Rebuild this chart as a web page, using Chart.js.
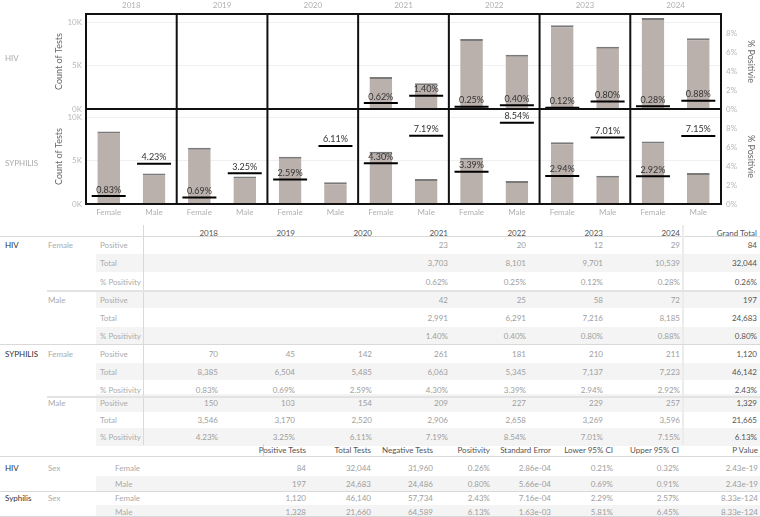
<!DOCTYPE html>
<html>
<head>
<meta charset="utf-8">
<script src="https://cdn.jsdelivr.net/npm/chart.js@4.4.1/dist/chart.umd.min.js"></script>
<style>
    body { margin: 0; background: #fff; font-family: Lato, "Open Sans", sans-serif; }
    #wrap { position: relative; width: 760px; height: 517px; overflow: hidden; }
    #chartTests { position: absolute; left: 0; top: -5px; }
    .t { position: absolute; font-size: 8px; line-height: 10px; height: 10px; white-space: nowrap; color: #a6a6a6; }
    .r { position: absolute; }
</style>
</head>
<body>
<div id="wrap">
    <canvas id="chartTests" width="760" height="228"></canvas>
</div>
<script>
// Chart data
const years = ['2018', '2019', '2020', '2021', '2022', '2023', '2024'];
const sexes = ['Female', 'Male'];
const countTicks = [0, 5000, 10000];
const pctTicks = [0, 2, 4, 6, 8];

const hivPosF = [null, null, null, 23, 20, 12, 29];
const hivTotalF = [null, null, null, 3703, 8101, 9701, 10539];
const hivPctF = [null, null, null, 0.62, 0.25, 0.12, 0.28];
const hivPosM = [null, null, null, 42, 25, 58, 72];
const hivTotalM = [null, null, null, 2991, 6291, 7216, 8185];
const hivPctM = [null, null, null, 1.40, 0.40, 0.80, 0.88];

const syphPosF = [70, 45, 142, 261, 181, 210, 211];
const syphTotalF = [8385, 6504, 5485, 6063, 5345, 7137, 7223];
const syphPctF = [0.83, 0.69, 2.59, 4.30, 3.39, 2.94, 2.92];
const syphPosM = [150, 103, 154, 209, 227, 229, 257];
const syphTotalM = [3546, 3170, 2520, 2906, 2658, 3269, 3596];
const syphPctM = [4.23, 3.25, 6.11, 7.19, 8.54, 7.01, 7.15];

// Grand totals: positive, total, % positivity
const hivGrandF = [84, 32044, 0.26];
const hivGrandM = [197, 24683, 0.80];
const syphGrandF = [1120, 46142, 2.43];
const syphGrandM = [1329, 21665, 6.13];

// Statistics table
const statHeaders = ['Positive Tests', 'Total Tests', 'Negative Tests', 'Positivity', 'Standard Error', 'Lower 95% CI', 'Upper 95% CI', 'P Value'];
const statHivF = ['84', '32,044', '31,960', '0.26%', '2.86e-04', '0.21%', '0.32%', '2.43e-19'];
const statHivM = ['197', '24,683', '24,486', '0.80%', '5.66e-04', '0.69%', '0.91%', '2.43e-19'];
const statSyphF = ['1,120', '46,140', '57,734', '2.43%', '7.16e-04', '2.29%', '2.57%', '8.33e-124'];
const statSyphM = ['1,328', '21,660', '64,589', '6.13%', '1.63e-03', '5.81%', '6.45%', '8.33e-124'];

// interleave year x sex into one category axis
function bySex(f, m) {
    const out = [];
    years.forEach((y, i) => { out.push(f[i]); out.push(m[i]); });
    return out;
}
const xLabels = bySex(years.map(() => sexes[0]), years.map(() => sexes[1]));

const BAR = '#bab0ac';
const CAP = '#7a7a7a';

// frame + percent labels
const panelPlugin = {
    id: 'panelPlugin',
    afterDatasetsDraw(chart) {
        const ctx = chart.ctx;
        const a = chart.chartArea;
        ctx.save();
        ctx.font = '9px Lato';
        ctx.fillStyle = '#333';
        ctx.textAlign = 'center';
        ctx.textBaseline = 'bottom';
        chart.data.datasets.forEach((ds, i) => {
            if (ds.type !== 'line') return;
            chart.getDatasetMeta(i).data.forEach((pt, j) => {
                const v = ds.data[j];
                if (v == null) return;
                ctx.fillText(v.toFixed(2) + '%', pt.x, pt.y - 2);
            });
        });

        const hivAx = chart.scales.yHiv;
        const mid = hivAx.top > a.top + 1 ? hivAx.top : hivAx.bottom;
        ctx.strokeStyle = '#111';
        ctx.lineWidth = 2;
        ctx.strokeRect(a.left, a.top, a.right - a.left, a.bottom - a.top);
        ctx.beginPath();
        for (let k = 1; k < years.length; k++) {
            const x = a.left + (a.right - a.left) * k / years.length;
            ctx.moveTo(x, a.top);
            ctx.lineTo(x, a.bottom);
        }
        ctx.moveTo(a.left, mid);
        ctx.lineTo(a.right, mid);
        ctx.stroke();
        ctx.restore();
    }
};

function barSet(data, axis) {
    return {
        type: 'bar',
        data: data,
        yAxisID: axis,
        backgroundColor: BAR,
        borderColor: CAP,
        borderWidth: { top: 2, left: 0, right: 0, bottom: 0 },
        borderSkipped: false,
        barPercentage: 0.5,
        categoryPercentage: 1,
        grouped: false,
        order: 2
    };
}

function markSet(data, axis) {
    return {
        type: 'line',
        data: data,
        yAxisID: axis,
        showLine: false,
        pointStyle: 'line',
        pointRadius: 17,
        pointHoverRadius: 17,
        pointBorderWidth: 2,
        pointBorderColor: '#000',
        borderColor: '#000',
        order: 1
    };
}

function countAxis(weight) {
    return {
        position: 'left',
        stack: 'rows',
        stackWeight: 1,
        weight: weight,
        min: 0,
        max: 11000,
        grid: { color: '#f0f0f0', drawTicks: false },
        border: { display: false },
        afterBuildTicks: s => { s.ticks = countTicks.map(v => ({ value: v })); },
        ticks: {
            autoSkip: false,
            padding: 4,
            color: '#b8b8b8',
            font: { size: 8 },
            callback: v => (v / 1000) + 'K'
        },
        title: { display: true, text: 'Count of Tests', color: '#666', font: { size: 9 }, padding: { top: 4, bottom: 0 } },
        afterFit: s => { s.width = 36; }
    };
}

function pctAxis(weight) {
    return {
        position: 'right',
        stack: 'rows2',
        stackWeight: 1,
        weight: weight,
        min: 0,
        max: 10,
        grid: { display: false, drawTicks: false },
        border: { display: false },
        afterBuildTicks: s => { s.ticks = pctTicks.map(v => ({ value: v })); },
        ticks: {
            autoSkip: false,
            padding: 5,
            color: '#b8b8b8',
            font: { size: 8 },
            callback: v => v + '%'
        },
        title: { display: true, text: '% Positivie', color: '#666', font: { size: 9 }, padding: { top: 4, bottom: 0 } },
        afterFit: s => { s.width = 39; }
    };
}

Chart.defaults.font.family = 'Lato';

new Chart(document.getElementById('chartTests'), {
    data: {
        labels: xLabels,
        datasets: [
            barSet(bySex(hivTotalF, hivTotalM), 'yHiv'),
            markSet(bySex(hivPctF, hivPctM), 'pHiv'),
            barSet(bySex(syphTotalF, syphTotalM), 'ySyph'),
            markSet(bySex(syphPctF, syphPctM), 'pSyph')
        ]
    },
    options: {
        responsive: false,
        animation: false,
        events: [],
        layout: { padding: { left: 50, right: 0, top: 0, bottom: 0 } },
        plugins: { legend: { display: false }, tooltip: { enabled: false } },
        scales: {
            x: {
                position: 'bottom',
                grid: { display: false, drawTicks: false },
                border: { display: false },
                ticks: { color: '#b0b0b0', font: { size: 8 }, padding: 4, maxRotation: 0, autoSkip: false },
                afterFit: s => { s.height = 16.3; }
            },
            xTop: {
                type: 'category',
                labels: years,
                position: 'top',
                offset: true,
                grid: { display: false, drawTicks: false },
                border: { display: false },
                ticks: { color: '#b0b0b0', font: { size: 8 }, padding: 4 },
                afterFit: s => { s.height = 13.7; }
            },
            yHiv: countAxis(1),
            ySyph: countAxis(0),
            pHiv: pctAxis(0),
            pSyph: pctAxis(1)
        }
    },
    plugins: [panelPlugin]
});

// ---------- tables ----------
const wrap = document.getElementById('wrap');

function addText(txt, x, y, align, color) {
    const d = document.createElement('div');
    d.className = 't';
    d.textContent = txt;
    d.style.top = (y - 5) + 'px';
    if (align === 'right') d.style.right = (760 - x) + 'px';
    else d.style.left = x + 'px';
    if (color) d.style.color = color;
    wrap.appendChild(d);
}

function addRect(x, y, w, h, color) {
    const d = document.createElement('div');
    d.className = 'r';
    d.style.left = x + 'px';
    d.style.top = y + 'px';
    d.style.width = w + 'px';
    d.style.height = h + 'px';
    d.style.background = color;
    wrap.appendChild(d);
}

const fmtNum = v => v == null ? '' : v.toLocaleString('en-US');
const fmtPct = v => v == null ? '' : v.toFixed(2) + '%';

// pivot table
const colRight = [218, 295, 372, 448, 526, 603, 680];
const rowY = [245, 263, 281.5, 299.5, 317.5, 336, 353.5, 371.5, 389.5, 403, 419.5, 437];
const rowH = 17.6;
const pivot = [
    ['HIV', 'Female', hivPosF, hivTotalF, hivPctF, hivGrandF],
    ['', 'Male', hivPosM, hivTotalM, hivPctM, hivGrandM],
    ['SYPHILIS', 'Female', syphPosF, syphTotalF, syphPctF, syphGrandF],
    ['', 'Male', syphPosM, syphTotalM, syphPctM, syphGrandM]
];
const measures = ['Positive', 'Total', '% Positivity'];

rowY.forEach((y, i) => {
    if (i % 2 === 1) addRect(96, y - rowH / 2, 664, rowH, '#f4f4f4');
});
addRect(0, 236, 760, 1, '#d9d9d9');
addRect(143, 225, 1, 220, '#d9d9d9');
addRect(682, 225, 2, 220, '#ececec');
addRect(47, 290, 713, 2, '#e3e3e3');
addRect(0, 344, 760, 1, '#d9d9d9');
addRect(47, 396, 713, 2, '#e3e3e3');

years.forEach((y, i) => addText(y, colRight[i], 232.5, 'right', '#555'));
addText('Grand Total', 757, 232.5, 'right', '#555');

pivot.forEach((blk, b) => {
    const base = b * 3;
    if (blk[0]) addText(blk[0], 5, rowY[base], 'left', '#333');
    addText(blk[1], 48, rowY[base], 'left', '#ababab');
    measures.forEach((m, k) => {
        const y = rowY[base + k];
        addText(m, 100, y, 'left', '#ababab');
        const vals = blk[2 + k];
        const fmt = k === 2 ? fmtPct : fmtNum;
        vals.forEach((v, i) => addText(fmt(v), colRight[i], y, 'right', '#9e9e9e'));
        addText(fmt(blk[5][k]), 757, y, 'right', '#555');
    });
});

// statistics table
const statRight = [306, 371, 433, 490, 551, 613, 679, 758];
const statY = [467.5, 484, 497.5, 511.5];
const statRows = [
    ['HIV', 'Female', statHivF],
    ['', 'Male', statHivM],
    ['Syphilis', 'Female', statSyphF],
    ['', 'Male', statSyphM]
];
addRect(96, 476, 664, 15, '#f4f4f4');
addRect(96, 505, 664, 11, '#f4f4f4');
addRect(0, 456, 760, 1, '#d9d9d9');
addRect(263, 444, 1, 12, '#d9d9d9');
addRect(0, 491, 760, 1, '#d9d9d9');
addRect(0, 516, 760, 1, '#d9d9d9');
statHeaders.forEach((h, i) => addText(h, statRight[i], 450, 'right', '#555'));
statRows.forEach((r, k) => {
    const y = statY[k];
    if (r[0]) {
        addText(r[0], 5, y, 'left', '#333');
        addText('Sex', 48, y, 'left', '#ababab');
    }
    addText(r[1], 115, y, 'left', '#ababab');
    r[2].forEach((v, i) => addText(v, statRight[i], y, 'right', '#9e9e9e'));
});

// row labels of the chart
addText('HIV', 5, 58, 'left', '#aaa');
addText('SYPHILIS', 5, 163, 'left', '#aaa');
</script>
</body>
</html>
